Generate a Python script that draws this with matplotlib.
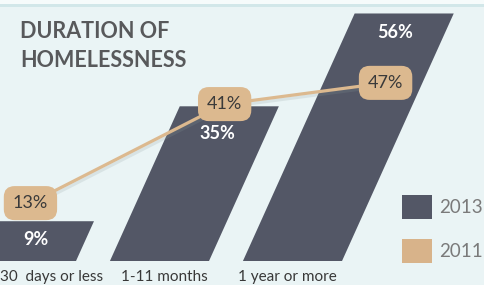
import matplotlib
matplotlib.use('Agg')
import matplotlib.pyplot as plt
import matplotlib.patheffects as pe
from matplotlib.patches import Polygon, Patch, Rectangle

# data
categories = ['30  days or less', '1-11 months', '1 year or more']
values_2013 = [9, 35, 56]
values_2011 = [13, 41, 47]

# colours
bar_color = '#535766'
tan = '#dcb98f'
bg = '#eaf4f5'

plt.rcParams['font.family'] = ['Lato', 'DejaVu Sans']

fig = plt.figure(figsize=(4.84, 2.85), dpi=100, facecolor=bg)
ax = fig.add_axes([0, 0, 1, 1])
ax.set_xlim(-0.199, 3.44)
ax.set_ylim(-5.43, 59.05)
ax.axis('off')

# thin strip along the top
fig.patches.append(Rectangle((0, 1 - 4 / 285), 1, 4 / 285, transform=fig.transFigure,
                             facecolor='#f6fbfb', edgecolor='none', zorder=0))
fig.patches.append(Rectangle((0, 1 - 7 / 285), 1, 3 / 285, transform=fig.transFigure,
                             facecolor='#d2e7e9', edgecolor='none', zorder=0))

# slanted bars (2013)
width = 0.745
slant = 0.015  # x shift per percentage point
label_drop = [4.2, 6.2, 4.4]
for i, v in enumerate(values_2013):
    x0 = i - width / 2
    verts = [(x0, 0), (x0 + width, 0), (x0 + width + slant * v, v), (x0 + slant * v, v)]
    ax.add_patch(Polygon(verts, closed=True, facecolor=bar_color, edgecolor='none', zorder=2))
    yl = v - label_drop[i]
    ax.text(i + slant * yl, yl, f'{v}%', color='white', fontsize=13, fontweight='bold',
            ha='center', va='center', zorder=3)

# category labels
label_x = [-0.199, 0.04, -0.04]
label_ha = ['left', 'center', 'center']
for i, c in enumerate(categories):
    x = label_x[0] if i == 0 else i + label_x[i]
    ax.text(x, -4.5, c, fontsize=11, color='#383838', ha=label_ha[i], va='baseline')

# 2011 line on its own scale
ax2 = ax.twinx()
ax2.set_ylim(-10.15, 70.43)
ax2.axis('off')
line_offset = [0.03, 0.49, 0.70]
lx = [i + line_offset[i] for i in range(len(values_2011))]
ax2.plot(lx, values_2011, color=tan, lw=2.3, zorder=4,
         path_effects=[pe.SimpleLineShadow(offset=(1, -2), shadow_color='#8a9a9c', alpha=0.18),
                       pe.Normal()])
for x, v in zip(lx, values_2011):
    ax2.text(x, v, f'{v}%', fontsize=13, color='#3a3a3a', ha='center', va='center', zorder=5,
             bbox=dict(boxstyle='round,pad=0.5,rounding_size=0.6', fc=tan, ec='none'))

# title
ax.text(-0.049, 54.4, 'DURATION OF\nHOMELESSNESS', fontsize=15.5, fontweight='bold',
        color='#58595b', ha='left', va='top', linespacing=1.5)

# legend
handles = [Patch(facecolor=bar_color, edgecolor='none', label='2013'),
           Patch(facecolor='#d8b38a', edgecolor='none', label='2011')]
fig.legend(handles=handles, loc='upper left', bbox_to_anchor=(402 / 484, 1 - 195 / 285),
           frameon=False, fontsize=13.5, labelcolor='#7a7a7a', handlelength=1.6,
           handleheight=1.6, handletextpad=0.4, labelspacing=1.05, borderpad=0,
           borderaxespad=0)

fig.savefig('out.png', dpi=100, facecolor=bg)
